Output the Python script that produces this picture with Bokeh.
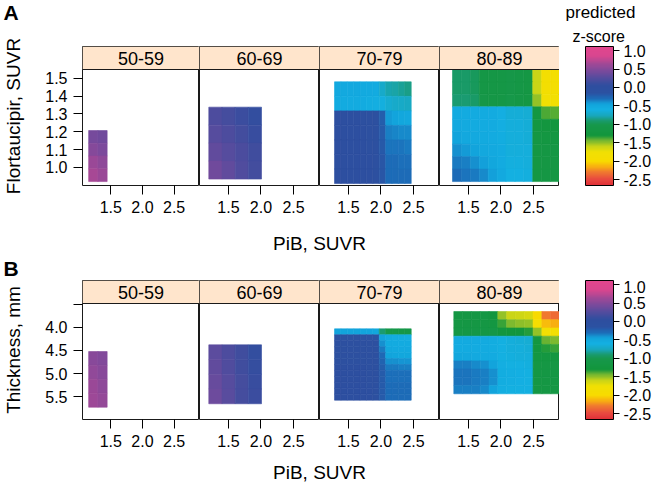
import numpy as np
from bokeh.plotting import figure
from bokeh.layouts import row, column
from bokeh.models import (Range1d, LinearColorMapper, ColorBar, FixedTicker,
                          BoxAnnotation, Span, Label, ColumnDataSource,
                          CustomJSTickFormatter, AllLabels)
from bokeh.embed import file_html
from bokeh.resources import INLINE

# ---------------- data ----------------
age_groups = ["50-59", "60-69", "70-79", "80-89"]
pib_ticks = [1.5, 2.0, 2.5]
pib_tick_labels = ["1.5", "2.0", "2.5"]
ftp_ticks = [1.0, 1.1, 1.2, 1.3, 1.4, 1.5]
ftp_tick_labels = ["1.0", "1.1", "1.2", "1.3", "1.4", "1.5"]
thk_ticks = [3.5, 4.0, 4.5, 5.0, 5.5]
thk_tick_labels = ["", "4.0", "4.5", "5.0", "5.5"]
z_ticks = [1.0, 0.5, 0.0, -0.5, -1.0, -1.5, -2.0, -2.5]
z_tick_labels = ["1.0", "0.5", "0.0", "-0.5", "-1.0", "-1.5", "-2.0", "-2.5"]

pib_limits = [1.054, 2.9]
ftp_limits = [0.899, 1.549]       # bottom, top
thk_limits = [5.989, 3.489]       # bottom, top (reversed axis)
z_limits = [-2.655, 1.11]

# extents of each panel's prediction grid: PiB min, PiB max, y min, y max
ftp_extents = [(1.151, 1.443, 0.921, 1.207),
               (1.197, 2.008, 0.935, 1.338),
               (1.285, 2.465, 0.910, 1.480),
               (1.254, 2.900, 0.921, 1.549)]
thk_extents = [(1.151, 1.443, 4.524, 5.724),
               (1.197, 2.008, 4.380, 5.650),
               (1.285, 2.465, 4.035, 5.573),
               (1.274, 2.900, 3.662, 5.435)]

# predicted z-scores, rows listed from the top of the panel downward
ftp_z_5059 = [[0.42, 0.40],
              [0.50, 0.46],
              [0.60, 0.55],
              [0.66, 0.60]]
ftp_z_6069 = [[0.22, 0.18, 0.12, 0.08],
              [0.26, 0.22, 0.16, 0.10],
              [0.32, 0.27, 0.20, 0.14],
              [0.40, 0.32, 0.24, 0.16]]
ftp_z_7079 = [
    [-0.52, -0.52, -0.52, -0.52, -0.53, -0.53, -0.55, -0.70, -0.78, -0.80, -0.83, -0.86],
    [-0.54, -0.54, -0.54, -0.55, -0.55, -0.56, -0.58, -0.62, -0.68, -0.70, -0.72, -0.73],
    [-0.02, -0.02, -0.02, -0.02, -0.03, -0.03, -0.05, -0.22, -0.42, -0.45, -0.48, -0.50],
    [-0.01, -0.01, -0.02, -0.02, -0.02, -0.03, -0.04, -0.20, -0.36, -0.37, -0.38, -0.38],
    [-0.01, -0.01, -0.01, -0.02, -0.02, -0.03, -0.04, -0.19, -0.32, -0.33, -0.33, -0.34],
    [0.00, -0.01, -0.01, -0.02, -0.02, -0.02, -0.04, -0.18, -0.30, -0.30, -0.31, -0.31],
    [0.00, 0.00, -0.01, -0.01, -0.02, -0.02, -0.03, -0.18, -0.29, -0.29, -0.30, -0.30]]
ftp_z_8089 = [
    [-0.92, -0.92, -0.95, -1.10, -1.12, -1.12, -1.08, -1.12, -1.15, -1.60, -1.85, -1.88],
    [-0.92, -0.92, -0.95, -1.10, -1.12, -1.12, -1.08, -1.12, -1.15, -1.60, -1.85, -1.88],
    [-0.90, -0.90, -0.93, -1.08, -1.10, -1.10, -1.06, -1.10, -1.15, -1.50, -1.78, -1.80],
    [-0.55, -0.55, -0.55, -0.55, -0.55, -0.58, -0.65, -0.65, -0.66, -1.20, -1.38, -1.40],
    [-0.52, -0.53, -0.54, -0.55, -0.55, -0.57, -0.64, -0.64, -0.65, -1.18, -1.25, -1.25],
    [-0.45, -0.50, -0.52, -0.53, -0.54, -0.56, -0.64, -0.64, -0.65, -1.15, -1.18, -1.18],
    [-0.40, -0.42, -0.46, -0.50, -0.52, -0.55, -0.63, -0.63, -0.64, -1.15, -1.15, -1.15],
    [-0.34, -0.36, -0.40, -0.44, -0.48, -0.54, -0.62, -0.62, -0.63, -1.15, -1.15, -1.15],
    [-0.30, -0.32, -0.34, -0.38, -0.44, -0.52, -0.60, -0.60, -0.62, -1.15, -1.15, -1.15]]

thk_z_5059 = [[0.52, 0.48],
              [0.56, 0.52],
              [0.60, 0.55],
              [0.62, 0.58]]
thk_z_6069 = [[0.30, 0.22, 0.14, 0.08],
              [0.32, 0.24, 0.15, 0.09],
              [0.35, 0.26, 0.17, 0.10],
              [0.38, 0.28, 0.18, 0.12]]
thk_z_7079 = [
    [-0.45, -0.45, -0.45, -0.45, -0.45, -0.46, -0.48, -0.90, -1.02, -1.05, -1.08, -1.08],
    [-0.12, -0.10, -0.10, -0.10, -0.10, -0.12, -0.15, -0.45, -0.55, -0.56, -0.56, -0.57],
    [-0.04, -0.04, -0.04, -0.04, -0.04, -0.04, -0.05, -0.40, -0.54, -0.55, -0.55, -0.55],
    [-0.03, -0.03, -0.03, -0.03, -0.03, -0.03, -0.04, -0.34, -0.50, -0.52, -0.52, -0.52],
    [-0.03, -0.03, -0.03, -0.03, -0.03, -0.03, -0.04, -0.28, -0.45, -0.47, -0.48, -0.48],
    [-0.03, -0.03, -0.03, -0.03, -0.03, -0.03, -0.04, -0.25, -0.40, -0.40, -0.41, -0.41],
    [-0.02, -0.02, -0.02, -0.02, -0.02, -0.03, -0.03, -0.22, -0.34, -0.34, -0.35, -0.35],
    [-0.02, -0.02, -0.02, -0.02, -0.02, -0.03, -0.03, -0.20, -0.31, -0.31, -0.31, -0.31],
    [-0.02, -0.02, -0.02, -0.02, -0.02, -0.03, -0.03, -0.20, -0.31, -0.31, -0.31, -0.31],
    [-0.02, -0.02, -0.02, -0.02, -0.02, -0.03, -0.03, -0.20, -0.30, -0.30, -0.30, -0.30],
    [-0.01, -0.01, -0.02, -0.02, -0.02, -0.02, -0.03, -0.20, -0.30, -0.30, -0.30, -0.30],
    [-0.01, -0.01, -0.02, -0.02, -0.02, -0.02, -0.03, -0.20, -0.30, -0.30, -0.30, -0.30]]
thk_z_8089 = [
    [-1.15, -1.15, -1.15, -1.15, -1.25, -1.50, -1.60, -1.62, -1.65, -2.00, -2.30, -2.35],
    [-1.15, -1.15, -1.15, -1.15, -1.18, -1.35, -1.45, -1.48, -1.50, -1.90, -2.10, -2.15],
    [-1.10, -1.10, -1.10, -1.10, -1.12, -1.25, -1.30, -1.30, -1.32, -1.50, -1.80, -1.82],
    [-0.55, -0.55, -0.55, -0.55, -0.56, -0.60, -0.64, -0.65, -0.66, -1.20, -1.42, -1.45],
    [-0.54, -0.54, -0.55, -0.55, -0.56, -0.60, -0.63, -0.64, -0.65, -1.22, -1.32, -1.35],
    [-0.48, -0.50, -0.52, -0.53, -0.54, -0.60, -0.62, -0.63, -0.64, -1.18, -1.20, -1.20],
    [-0.36, -0.36, -0.38, -0.40, -0.45, -0.58, -0.60, -0.61, -0.62, -1.15, -1.15, -1.15],
    [-0.33, -0.33, -0.34, -0.36, -0.40, -0.56, -0.58, -0.59, -0.60, -1.15, -1.15, -1.15],
    [-0.33, -0.33, -0.34, -0.36, -0.40, -0.56, -0.58, -0.59, -0.60, -1.15, -1.15, -1.15],
    [-0.35, -0.35, -0.36, -0.38, -0.45, -0.57, -0.60, -0.60, -0.61, -1.15, -1.15, -1.15]]

ftp_z = [ftp_z_5059, ftp_z_6069, ftp_z_7079, ftp_z_8089]
thk_z = [thk_z_5059, thk_z_6069, thk_z_7079, thk_z_8089]

# ---------------- style ----------------
FONT = "Liberation Sans"
STRIP_BG = "#ffe5cc"
key_anchors = [(-2.655, "#e03038"), (-2.5, "#e84840"), (-2.3, "#f07830"),
               (-2.15, "#f8b010"), (-2.0, "#f8dc00"), (-1.75, "#f0e004"),
               (-1.6, "#c8d418"), (-1.45, "#78b830"), (-1.3, "#12963c"),
               (-1.0, "#17984c"), (-0.88, "#1a9c78"), (-0.75, "#18a8c0"),
               (-0.6, "#14b0e2"), (-0.45, "#12a4dc"), (-0.3, "#1c6cb8"),
               (-0.15, "#2b52a2"), (0.05, "#2e4e9f"), (0.25, "#524c9e"),
               (0.45, "#7a4a9c"), (0.65, "#a24896"), (0.85, "#d8468f"),
               (1.11, "#e2468e")]


def build_palette(anchors, n=256):
    vals = np.array([a[0] for a in anchors])
    rgb = np.array([[int(h[i:i + 2], 16) for i in (1, 3, 5)] for _, h in anchors], float)
    grid = np.linspace(vals[0], vals[-1], n)
    chans = [np.interp(grid, vals, rgb[:, k]) for k in range(3)]
    return ["#%02x%02x%02x" % (int(round(r)), int(round(g)), int(round(b)))
            for r, g, b in zip(*chans)]


palette = build_palette(key_anchors)
mapper = LinearColorMapper(palette=palette, low=z_limits[0], high=z_limits[1])

TOTAL_W = 655
PANEL_W = 120
STRIP_H = 23
PANEL_H = 116
FRAME_H = STRIP_H + PANEL_H
LEFT_B = 79
CB_LEFT, CB_W, CB_FIG_W = 26, 28, 96


def tick_fmt(vals, labels):
    return CustomJSTickFormatter(
        args=dict(tv=list(vals), tl=list(labels)),
        code="const i = tv.findIndex(v => Math.abs(v - tick) < 1e-9); return i < 0 ? '' : tl[i];")


def style_axis(ax, ticks, labels, standoff):
    ax.ticker = FixedTicker(ticks=ticks)
    ax.formatter = tick_fmt(ticks, labels)
    ax.axis_line_color = None
    ax.major_tick_line_color = "black"
    ax.major_tick_out = 9
    ax.major_tick_in = 0
    ax.minor_tick_line_color = None
    ax.major_label_standoff = standoff
    ax.major_label_text_font = FONT
    ax.major_label_text_font_size = "16px"
    ax.major_label_text_color = "black"


def text_fig(width, height):
    """A blank figure whose frame is the whole canvas, in pixel-like units."""
    f = figure(width=width, height=height, x_range=Range1d(0, width),
               y_range=Range1d(height, 0), min_border_left=0, min_border_right=0,
               min_border_top=0, min_border_bottom=0,
               x_axis_location=None, y_axis_location=None,
               output_backend="svg", toolbar_location=None)
    f.outline_line_color = None
    f.grid.visible = False
    return f


def text_label(x, y, text, size, align="center", baseline="middle", style="normal"):
    return Label(x=x, y=y, text=text, text_align=align, text_baseline=baseline,
                 text_font=FONT, text_font_size=size, text_font_style=style,
                 text_color="black")


def make_row(limits, ticks, labels, extents, zs, ylabel, top, bot, cb_title=""):
    height = top + FRAME_H + bot
    y_bot, y_ptop = limits
    upp = (y_bot - y_ptop) / PANEL_H          # data units per pixel downward
    y_ftop = y_ptop - STRIP_H * upp           # data value at top of strip

    figs = []
    for i, age in enumerate(age_groups):
        first = i == 0
        p = figure(width=PANEL_W + (LEFT_B if first else 0), height=height,
                   x_range=Range1d(*pib_limits), y_range=Range1d(y_bot, y_ftop),
                   min_border_left=LEFT_B if first else 0, min_border_right=0,
                   min_border_top=top, min_border_bottom=bot,
                   y_axis_location="left" if first else None,
                   output_backend="svg", toolbar_location=None)
        p.xgrid.visible = False
        p.ygrid.visible = False
        p.outline_line_color = "#1a1a1a"
        p.outline_line_width = 1.0
        style_axis(p.xaxis[0], pib_ticks, pib_tick_labels, 6)
        if first:
            ax = p.yaxis[0]
            style_axis(ax, ticks, labels, 6)
            ax.axis_label = ylabel
            ax.axis_label_standoff = 18
            ax.axis_label_text_font = FONT
            ax.axis_label_text_font_size = "19px"
            ax.axis_label_text_font_style = "normal"
            ax.axis_label_text_color = "black"

        x0, x1, y0, y1 = extents[i]
        z = np.asarray(zs[i], float)
        nr, nc = z.shape
        xe = np.linspace(x0, x1, nc + 1)
        ye = np.linspace(y1, y0, nr + 1) if upp < 0 else np.linspace(y0, y1, nr + 1)
        src = ColumnDataSource(dict(
            left=np.tile(xe[:-1], nr), right=np.tile(xe[1:], nr),
            top=np.repeat(ye[:-1], nc), bottom=np.repeat(ye[1:], nc),
            z=z.ravel()))
        cmap = {"field": "z", "transform": mapper}
        p.quad(left="left", right="right", top="top", bottom="bottom", source=src,
               fill_color=cmap, line_color=cmap, line_width=0.6)

        p.add_layout(BoxAnnotation(top=y_ftop, bottom=y_ptop, fill_color=STRIP_BG,
                                   fill_alpha=1, line_color=None))
        p.add_layout(Span(location=y_ptop, dimension="width", line_color="#1a1a1a",
                          line_width=1))
        p.add_layout(text_label((pib_limits[0] + pib_limits[1]) / 2,
                                y_ftop + (STRIP_H / 2) * upp, age, "18px"))
        figs.append(p)

    cb_fig = figure(width=CB_FIG_W, height=height, x_range=Range1d(0, 1),
                    y_range=Range1d(0, 1), min_border_left=0, min_border_right=0,
                    min_border_top=top, min_border_bottom=bot,
                    x_axis_location=None, y_axis_location=None,
                    output_backend="svg", toolbar_location=None)
    cb_fig.outline_line_color = None
    cb_fig.grid.visible = False
    cb_fig.title.text = cb_title
    cb_fig.title.align = "left"
    cb_fig.title.vertical_align = "top"
    cb_fig.title.offset = 13
    cb_fig.title.standoff = 0
    cb_fig.title.text_font = FONT
    cb_fig.title.text_font_size = "16px"
    cb_fig.title.text_font_style = "normal"
    cb_fig.title.text_color = "black"
    cb = ColorBar(color_mapper=mapper, ticker=FixedTicker(ticks=z_ticks),
                  formatter=tick_fmt(z_ticks, z_tick_labels),
                  major_label_policy=AllLabels(),
                  location=(CB_LEFT, 0), width=CB_W, height=FRAME_H,
                  padding=0, margin=0, bar_line_color="black", bar_line_width=1,
                  major_tick_line_color="black", major_tick_out=6, major_tick_in=0,
                  minor_tick_line_color=None, label_standoff=4,
                  major_label_text_font=FONT, major_label_text_font_size="16px",
                  major_label_text_color="black",
                  background_fill_color=None, border_line_color=None)
    cb_fig.add_layout(cb, "center")
    figs.append(cb_fig)
    return row(*figs, spacing=0)


def make_xlabel(height, y_mid):
    width = LEFT_B + 4 * PANEL_W
    f = text_fig(width, height)
    f.add_layout(text_label(LEFT_B + 2 * PANEL_W, y_mid, "PiB, SUVR", "19px"))
    return f


header_a = text_fig(TOTAL_W, 24)
header_a.add_layout(text_label(3, 0.5, "A", "21px", align="left", baseline="top",
                               style="bold"))
header_a.add_layout(text_label(600, 12, "predicted", "17px"))

header_b = text_fig(TOTAL_W, 24)
header_b.add_layout(text_label(3, 0.5, "B", "21px", align="left", baseline="top",
                               style="bold"))

row_a = make_row(ftp_limits, ftp_ticks, ftp_tick_labels, ftp_extents, ftp_z,
                 "Flortaucipir, SUVR", 22, 36, cb_title="z-score")
row_b = make_row(thk_limits, thk_ticks, thk_tick_labels, thk_extents, thk_z,
                 "Thickness, mm", 0, 34)

layout = column(header_a, row_a, make_xlabel(35, 22),
                header_b, row_b, make_xlabel(31, 19), spacing=0)

open("out.html", "w").write(file_html(layout, INLINE, title="predicted z-score"))
